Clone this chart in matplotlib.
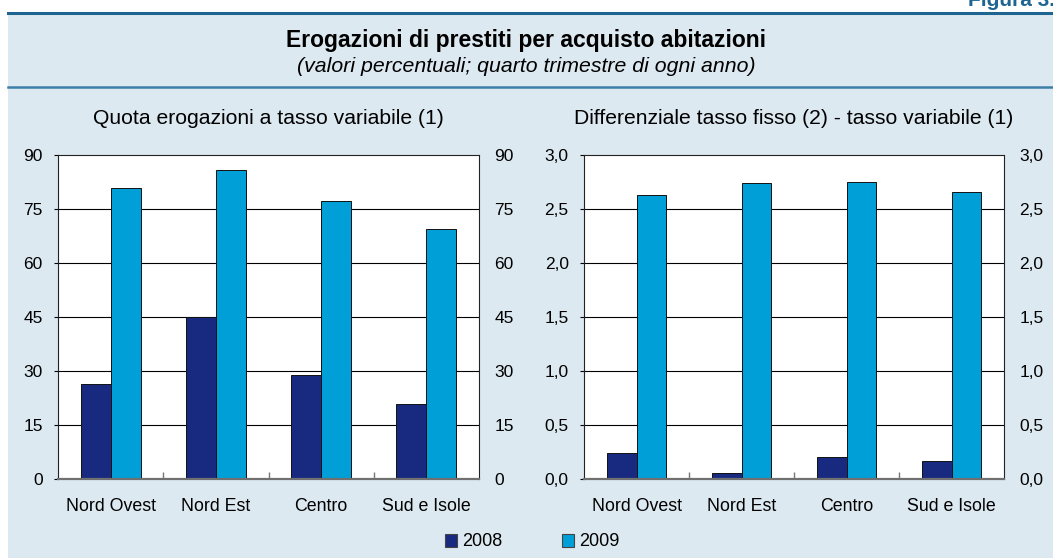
import matplotlib
matplotlib.use("Agg")
import matplotlib.pyplot as plt
from matplotlib.patches import Rectangle, Patch
from matplotlib.lines import Line2D
from matplotlib.ticker import FuncFormatter, FixedLocator

plt.rcParams['font.family'] = ['Liberation Sans', 'DejaVu Sans']

categories = ["Nord Ovest", "Nord Est", "Centro", "Sud e Isole"]
quota_2008 = [26.3, 44.9, 28.9, 20.9]
quota_2009 = [80.7, 85.8, 77.2, 69.4]
diff_2008 = [0.245, 0.056, 0.208, 0.171]
diff_2009 = [2.634, 2.740, 2.746, 2.656]
years = ["2008", "2009"]
left_ticks = [0, 15, 30, 45, 60, 75, 90]
right_ticks = [0.0, 0.5, 1.0, 1.5, 2.0, 2.5, 3.0]

title = "Erogazioni di prestiti per acquisto abitazioni"
subtitle = "(valori percentuali; quarto trimestre di ogni anno)"
left_title = "Quota erogazioni a tasso variabile (1)"
right_title = "Differenziale tasso fisso (2) - tasso variabile (1)"
fig_label = "Figura 3."

C2008 = "#182a80"
C2009 = "#009fd7"
BG = "#dde9f1"
LINE = "#1e6591"

W, H = 1053, 558
fig = plt.figure(figsize=(W / 100, H / 100), dpi=100)
fig.patch.set_facecolor("white")

def fx(px):
    return px / W

def fy(py):
    return 1 - py / H

fig.add_artist(Rectangle((fx(8), 0), 1 - fx(8), fy(14), transform=fig.transFigure,
                         facecolor=BG, edgecolor="none", zorder=0))
fig.add_artist(Line2D([fx(8), 1], [fy(12.5), fy(12.5)], transform=fig.transFigure,
                      color=LINE, lw=2.2))
fig.add_artist(Line2D([fx(8), 1], [fy(87), fy(87)], transform=fig.transFigure,
                      color="#3d7fa8", lw=1.8))

fig.text(fx(968), fy(5.5), fig_label, fontsize=15, fontweight="bold", color=LINE,
         ha="left", va="baseline")
fig.text(0.5, fy(40), title, fontsize=16.5, fontweight="bold", ha="center", va="center")
fig.text(0.5, fy(66.5), subtitle, fontsize=15.3, style="italic", ha="center", va="center")

def make_axes(left_px, right_px, s08, s09, ticks, fmt, ptitle):
    top, bottom = 155, 479
    ax = fig.add_axes([fx(left_px), fy(bottom), fx(right_px - left_px), (bottom - top) / H])
    ax.set_facecolor("white")
    x = list(range(len(categories)))
    w = 0.285
    ax.bar([i - w / 2 for i in x], s08, width=w, color=C2008, edgecolor="#111111",
           linewidth=0.7, zorder=3)
    ax.bar([i + w / 2 for i in x], s09, width=w, color=C2009, edgecolor="#111111",
           linewidth=0.7, zorder=3)
    ax.set_xlim(-0.5, len(categories) - 0.5)
    ax.set_ylim(ticks[0], ticks[-1])
    ax.set_yticks(ticks)
    ax.yaxis.set_major_formatter(FuncFormatter(fmt))
    for t in ticks[1:-1]:
        ax.axhline(t, color="black", lw=0.8, zorder=1)
    ax.set_xticks(x)
    ax.set_xticklabels(categories, fontsize=12.8)
    ax.tick_params(axis="x", which="major", length=0, pad=14)
    ax.xaxis.set_minor_locator(FixedLocator([0.5, 1.5, 2.5]))
    ax.tick_params(axis="x", which="minor", direction="in", length=5, color="#777777", width=1)
    ax.tick_params(axis="y", labelsize=12.5, left=True, right=False,
                   labelleft=True, labelright=True, length=3, pad=8, direction="out")
    for s in ["left", "right", "top"]:
        ax.spines[s].set_linewidth(0.8)
        ax.spines[s].set_color("#222222")
    ax.spines["bottom"].set_linewidth(1.6)
    ax.spines["bottom"].set_color("#707070")
    ax.spines["bottom"].set_zorder(4)
    cx = (left_px + right_px) / 2
    fig.text(fx(cx), fy(119), ptitle, fontsize=15.2, ha="center", va="center")
    return ax

make_axes(58, 479, quota_2008, quota_2009, left_ticks, lambda v, p: f"{int(v)}", left_title)
make_axes(584, 1004, diff_2008, diff_2009, right_ticks,
          lambda v, p: f"{v:.1f}".replace(".", ","), right_title)

handles = [Patch(facecolor=C2008, edgecolor="#444444", linewidth=0.8),
           Patch(facecolor=C2009, edgecolor="#444444", linewidth=0.8)]
fig.legend(handles, years, loc="center", bbox_to_anchor=(fx(532), fy(542)), ncol=2,
           frameon=False, fontsize=13, handlelength=0.7, handleheight=0.7,
           handletextpad=0.25, columnspacing=3.3)

fig.savefig("out.png", dpi=100, facecolor=fig.get_facecolor())
